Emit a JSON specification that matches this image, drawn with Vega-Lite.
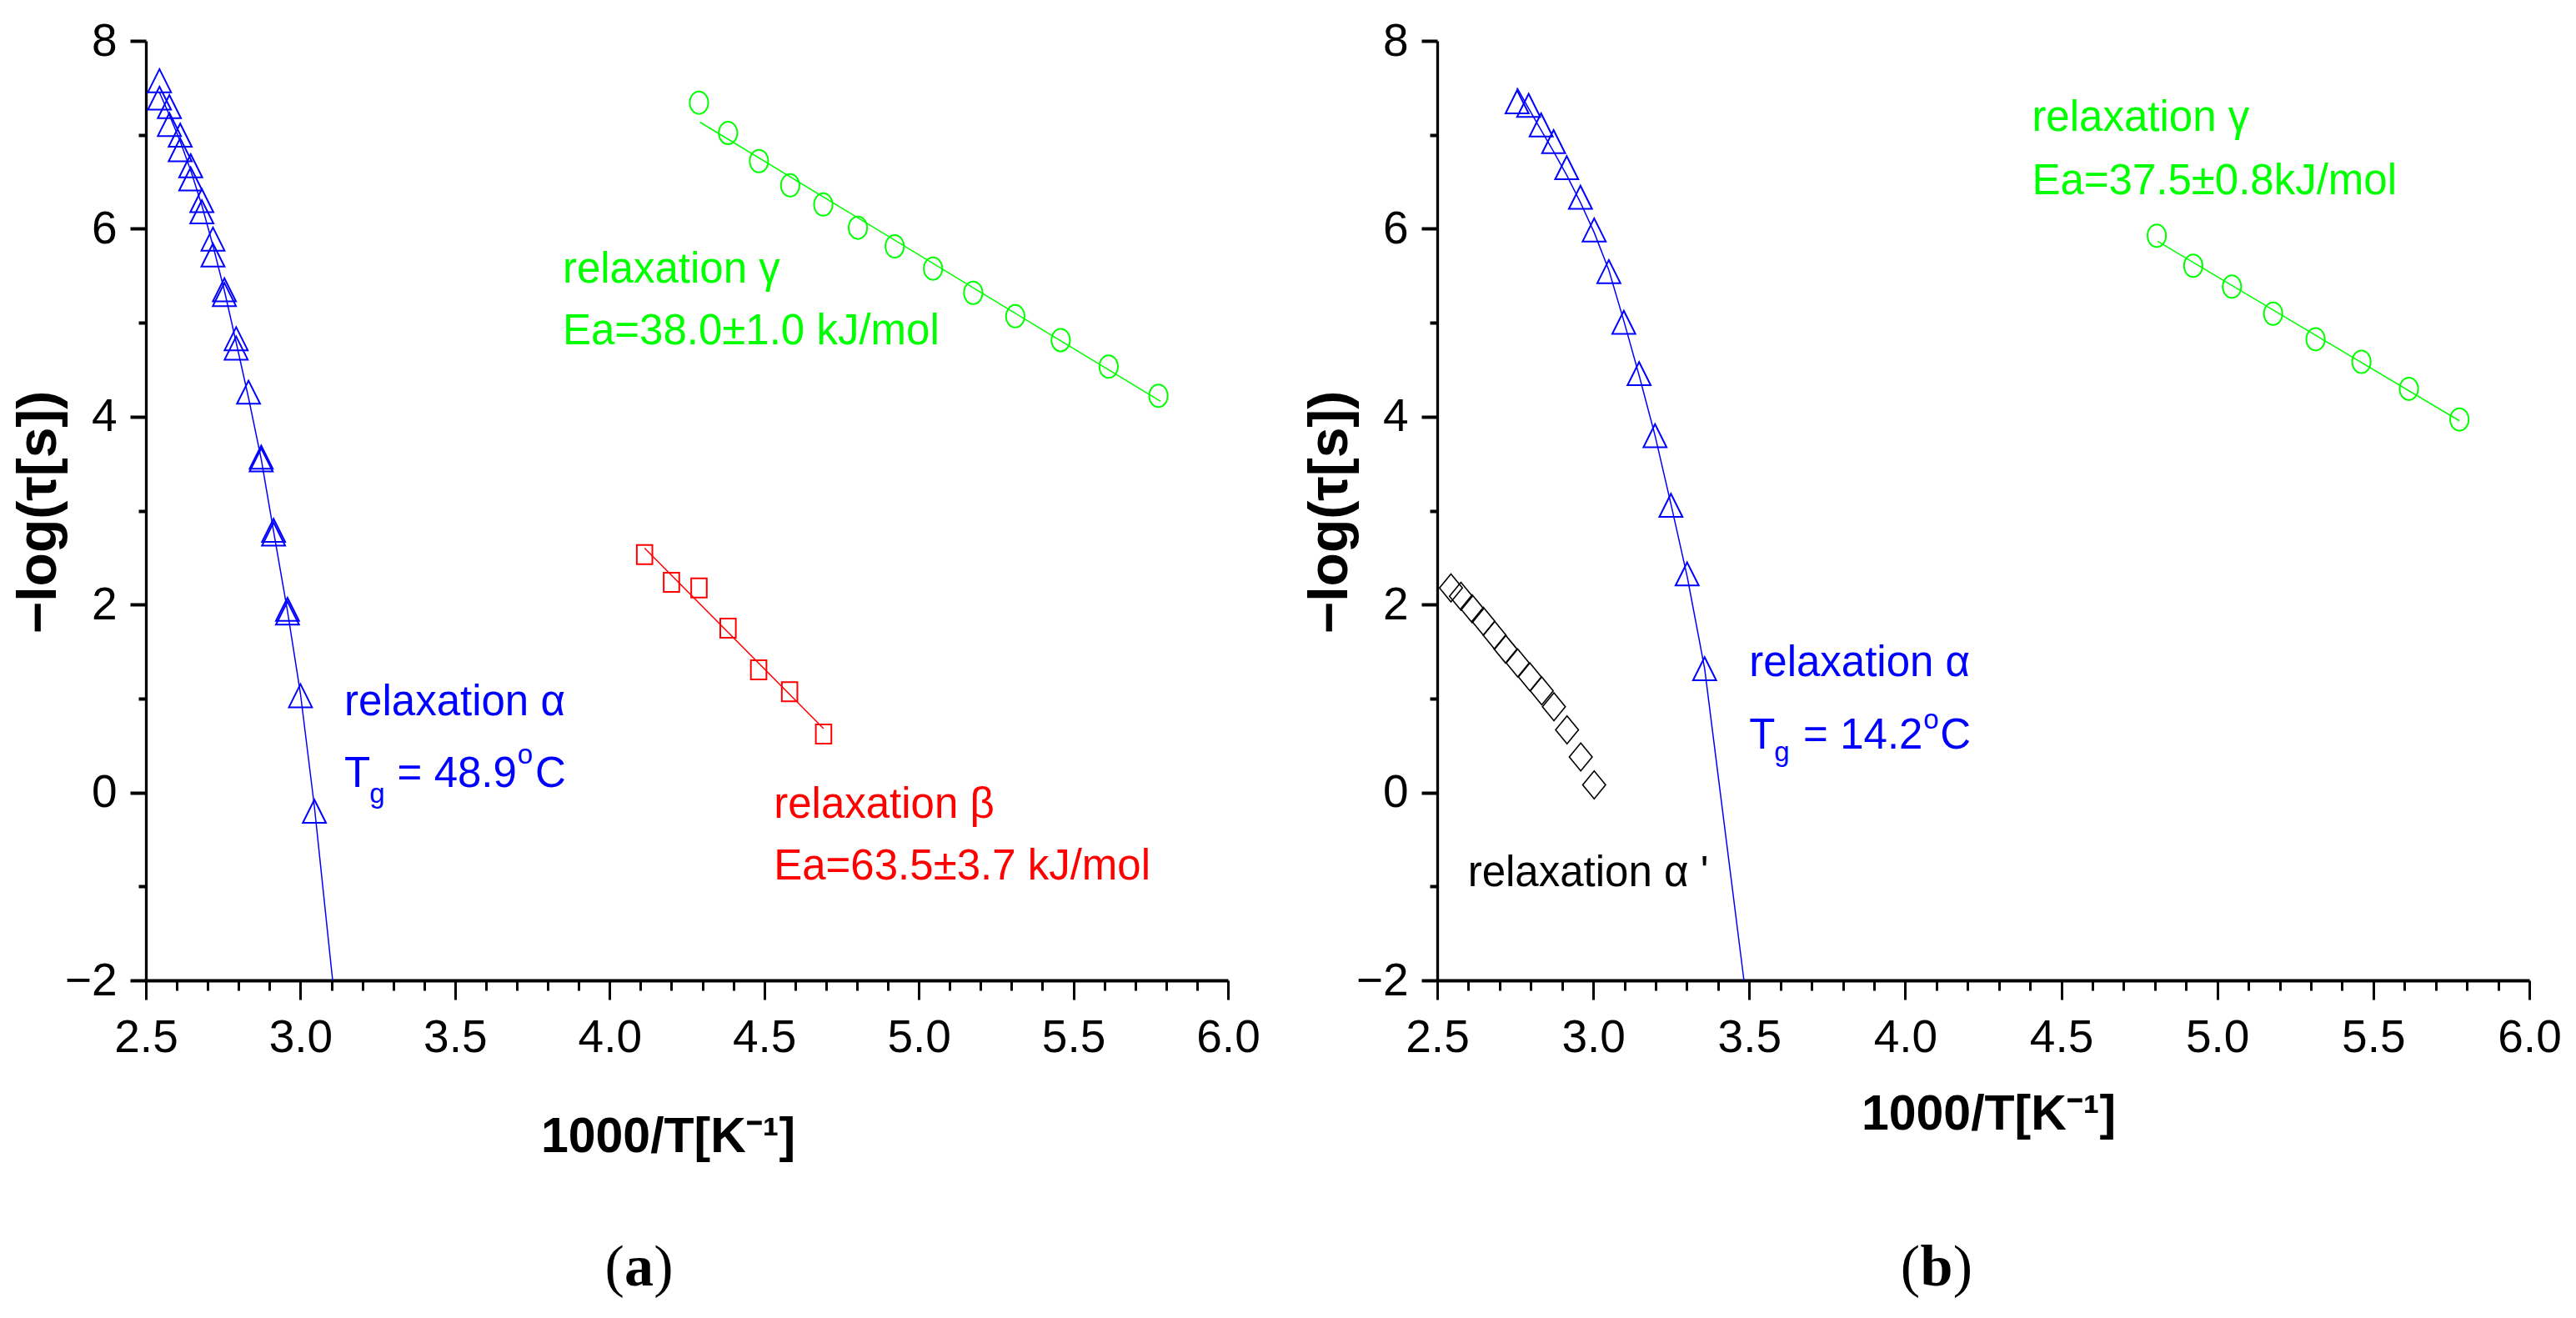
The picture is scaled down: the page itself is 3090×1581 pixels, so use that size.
{
  "$schema": "https://vega.github.io/schema/vega-lite/v6.json",
  "background": "white",
  "padding": {"left": 13, "top": 22, "right": 0, "bottom": 0},
  "config": {
    "view": {"stroke": null},
    "axis": {"grid": false, "domainColor": "black", "tickColor": "black", "labelColor": "black", "titleColor": "black", "labelFont": "Liberation Sans", "labelFontSize": 55, "labelOverlap": false, "labelFlush": false, "titleFontWeight": "bold"},
    "axisX": {"domainWidth": 4, "tickWidth": 3, "labelPadding": 19, "titleFont": "Liberation Sans", "titleFontSize": 59},
    "axisY": {"domainWidth": 3.3, "tickWidth": 4, "labelPadding": 16, "titleFont": "Liberation Sans", "titleFontSize": 66}
  },
  "datasets": {
    "pts": [
      {"panel": "a", "series": "alpha", "x": 2.544, "y": 7.576},
      {"panel": "a", "series": "alpha", "x": 2.544, "y": 7.39},
      {"panel": "a", "series": "alpha", "x": 2.576, "y": 7.30},
      {"panel": "a", "series": "alpha", "x": 2.576, "y": 7.11},
      {"panel": "a", "series": "alpha", "x": 2.611, "y": 6.996},
      {"panel": "a", "series": "alpha", "x": 2.611, "y": 6.84},
      {"panel": "a", "series": "alpha", "x": 2.645, "y": 6.67},
      {"panel": "a", "series": "alpha", "x": 2.645, "y": 6.53},
      {"panel": "a", "series": "alpha", "x": 2.681, "y": 6.30},
      {"panel": "a", "series": "alpha", "x": 2.681, "y": 6.18},
      {"panel": "a", "series": "alpha", "x": 2.717, "y": 5.89},
      {"panel": "a", "series": "alpha", "x": 2.717, "y": 5.72},
      {"panel": "a", "series": "alpha", "x": 2.754, "y": 5.35},
      {"panel": "a", "series": "alpha", "x": 2.754, "y": 5.30},
      {"panel": "a", "series": "alpha", "x": 2.792, "y": 4.83},
      {"panel": "a", "series": "alpha", "x": 2.792, "y": 4.73},
      {"panel": "a", "series": "alpha", "x": 2.832, "y": 4.26},
      {"panel": "a", "series": "alpha", "x": 2.873, "y": 3.57},
      {"panel": "a", "series": "alpha", "x": 2.873, "y": 3.54},
      {"panel": "a", "series": "alpha", "x": 2.913, "y": 2.79},
      {"panel": "a", "series": "alpha", "x": 2.913, "y": 2.75},
      {"panel": "a", "series": "alpha", "x": 2.958, "y": 1.95},
      {"panel": "a", "series": "alpha", "x": 2.958, "y": 1.91},
      {"panel": "a", "series": "alpha", "x": 3.0, "y": 1.03},
      {"panel": "a", "series": "alpha", "x": 3.045, "y": -0.20},
      {"panel": "a", "series": "beta", "x": 4.113, "y": 2.533},
      {"panel": "a", "series": "beta", "x": 4.200, "y": 2.238},
      {"panel": "a", "series": "beta", "x": 4.289, "y": 2.178},
      {"panel": "a", "series": "beta", "x": 4.383, "y": 1.749},
      {"panel": "a", "series": "beta", "x": 4.482, "y": 1.305},
      {"panel": "a", "series": "beta", "x": 4.582, "y": 1.073},
      {"panel": "a", "series": "beta", "x": 4.692, "y": 0.622},
      {"panel": "a", "series": "gamma", "x": 4.289, "y": 7.342},
      {"panel": "a", "series": "gamma", "x": 4.383, "y": 7.02},
      {"panel": "a", "series": "gamma", "x": 4.483, "y": 6.72},
      {"panel": "a", "series": "gamma", "x": 4.584, "y": 6.462},
      {"panel": "a", "series": "gamma", "x": 4.691, "y": 6.258},
      {"panel": "a", "series": "gamma", "x": 4.803, "y": 6.011},
      {"panel": "a", "series": "gamma", "x": 4.922, "y": 5.813},
      {"panel": "a", "series": "gamma", "x": 5.046, "y": 5.576},
      {"panel": "a", "series": "gamma", "x": 5.176, "y": 5.318},
      {"panel": "a", "series": "gamma", "x": 5.312, "y": 5.069},
      {"panel": "a", "series": "gamma", "x": 5.459, "y": 4.815},
      {"panel": "a", "series": "gamma", "x": 5.614, "y": 4.533},
      {"panel": "a", "series": "gamma", "x": 5.775, "y": 4.222},
      {"panel": "b", "series": "alpha", "x": 2.756, "y": 7.351},
      {"panel": "b", "series": "alpha", "x": 2.793, "y": 7.313},
      {"panel": "b", "series": "alpha", "x": 2.833, "y": 7.105},
      {"panel": "b", "series": "alpha", "x": 2.873, "y": 6.927},
      {"panel": "b", "series": "alpha", "x": 2.915, "y": 6.65},
      {"panel": "b", "series": "alpha", "x": 2.959, "y": 6.335},
      {"panel": "b", "series": "alpha", "x": 3.003, "y": 5.988},
      {"panel": "b", "series": "alpha", "x": 3.05, "y": 5.544},
      {"panel": "b", "series": "alpha", "x": 3.098, "y": 5.004},
      {"panel": "b", "series": "alpha", "x": 3.147, "y": 4.458},
      {"panel": "b", "series": "alpha", "x": 3.198, "y": 3.798},
      {"panel": "b", "series": "alpha", "x": 3.249, "y": 3.056},
      {"panel": "b", "series": "alpha", "x": 3.301, "y": 2.326},
      {"panel": "b", "series": "alpha", "x": 3.357, "y": 1.318},
      {"panel": "b", "series": "alphap", "x": 2.544, "y": 2.178},
      {"panel": "b", "series": "alphap", "x": 2.576, "y": 2.089},
      {"panel": "b", "series": "alphap", "x": 2.612, "y": 1.956},
      {"panel": "b", "series": "alphap", "x": 2.648, "y": 1.822},
      {"panel": "b", "series": "alphap", "x": 2.684, "y": 1.674},
      {"panel": "b", "series": "alphap", "x": 2.719, "y": 1.526},
      {"panel": "b", "series": "alphap", "x": 2.758, "y": 1.378},
      {"panel": "b", "series": "alphap", "x": 2.797, "y": 1.229},
      {"panel": "b", "series": "alphap", "x": 2.835, "y": 1.082},
      {"panel": "b", "series": "alphap", "x": 2.874, "y": 0.913},
      {"panel": "b", "series": "alphap", "x": 2.916, "y": 0.667},
      {"panel": "b", "series": "alphap", "x": 2.960, "y": 0.379},
      {"panel": "b", "series": "alphap", "x": 3.003, "y": 0.080},
      {"panel": "b", "series": "gamma", "x": 4.806, "y": 5.926},
      {"panel": "b", "series": "gamma", "x": 4.923, "y": 5.606},
      {"panel": "b", "series": "gamma", "x": 5.047, "y": 5.384},
      {"panel": "b", "series": "gamma", "x": 5.179, "y": 5.096},
      {"panel": "b", "series": "gamma", "x": 5.315, "y": 4.824},
      {"panel": "b", "series": "gamma", "x": 5.462, "y": 4.584},
      {"panel": "b", "series": "gamma", "x": 5.614, "y": 4.296},
      {"panel": "b", "series": "gamma", "x": 5.776, "y": 3.970}
    ],
    "fits": [
      {"panel": "a", "series": "alpha", "x": 2.544, "y": 7.45},
      {"panel": "a", "series": "alpha", "x": 2.576, "y": 7.21},
      {"panel": "a", "series": "alpha", "x": 2.611, "y": 6.93},
      {"panel": "a", "series": "alpha", "x": 2.645, "y": 6.62},
      {"panel": "a", "series": "alpha", "x": 2.681, "y": 6.25},
      {"panel": "a", "series": "alpha", "x": 2.717, "y": 5.82},
      {"panel": "a", "series": "alpha", "x": 2.754, "y": 5.34},
      {"panel": "a", "series": "alpha", "x": 2.792, "y": 4.79},
      {"panel": "a", "series": "alpha", "x": 2.832, "y": 4.2},
      {"panel": "a", "series": "alpha", "x": 2.873, "y": 3.55},
      {"panel": "a", "series": "alpha", "x": 2.913, "y": 2.78},
      {"panel": "a", "series": "alpha", "x": 2.958, "y": 1.93},
      {"panel": "a", "series": "alpha", "x": 3.0, "y": 1.05},
      {"panel": "a", "series": "alpha", "x": 3.045, "y": -0.15},
      {"panel": "a", "series": "alpha", "x": 3.104, "y": -2.0},
      {"panel": "a", "series": "beta", "x": 4.113, "y": 2.60},
      {"panel": "a", "series": "beta", "x": 4.692, "y": 0.68},
      {"panel": "a", "series": "gamma", "x": 4.292, "y": 7.135},
      {"panel": "a", "series": "gamma", "x": 5.782, "y": 4.163},
      {"panel": "b", "series": "alpha", "x": 2.756, "y": 7.50},
      {"panel": "b", "series": "alpha", "x": 2.793, "y": 7.28},
      {"panel": "b", "series": "alpha", "x": 2.833, "y": 7.05},
      {"panel": "b", "series": "alpha", "x": 2.873, "y": 6.82},
      {"panel": "b", "series": "alpha", "x": 2.915, "y": 6.57},
      {"panel": "b", "series": "alpha", "x": 2.959, "y": 6.28},
      {"panel": "b", "series": "alpha", "x": 3.003, "y": 5.96},
      {"panel": "b", "series": "alpha", "x": 3.05, "y": 5.56},
      {"panel": "b", "series": "alpha", "x": 3.098, "y": 5.02},
      {"panel": "b", "series": "alpha", "x": 3.147, "y": 4.44},
      {"panel": "b", "series": "alpha", "x": 3.198, "y": 3.80},
      {"panel": "b", "series": "alpha", "x": 3.249, "y": 3.07},
      {"panel": "b", "series": "alpha", "x": 3.301, "y": 2.30},
      {"panel": "b", "series": "alpha", "x": 3.357, "y": 1.32},
      {"panel": "b", "series": "alpha", "x": 3.483, "y": -2.0},
      {"panel": "b", "series": "gamma", "x": 4.809, "y": 5.867},
      {"panel": "b", "series": "gamma", "x": 5.776, "y": 3.956}
    ],
    "labels": [
      {"panel": "a", "series": "alpha", "kind": "main", "x": 3.142, "y": 0.818, "text": "relaxation α"},
      {"panel": "a", "series": "alpha", "kind": "main", "x": 3.142, "y": 0.062, "text": "T"},
      {"panel": "a", "series": "alpha", "kind": "small", "x": 3.223, "y": -0.107, "text": "g"},
      {"panel": "a", "series": "alpha", "kind": "main", "x": 3.313, "y": 0.062, "text": "="},
      {"panel": "a", "series": "alpha", "kind": "main", "x": 3.432, "y": 0.062, "text": "48.9"},
      {"panel": "a", "series": "alpha", "kind": "small", "x": 3.702, "y": 0.311, "text": "o"},
      {"panel": "a", "series": "alpha", "kind": "main", "x": 3.759, "y": 0.062, "text": "C"},
      {"panel": "a", "series": "beta", "kind": "main", "x": 4.531, "y": -0.267, "text": "relaxation β"},
      {"panel": "a", "series": "beta", "kind": "main", "x": 4.531, "y": -0.924, "text": "Ea=63.5±3.7 kJ/mol"},
      {"panel": "a", "series": "gamma", "kind": "main", "x": 3.848, "y": 5.428, "text": "relaxation γ"},
      {"panel": "a", "series": "gamma", "kind": "main", "x": 3.848, "y": 4.771, "text": "Ea=38.0±1.0 kJ/mol"},
      {"panel": "a", "series": "cap", "kind": "capl", "x": 4.047, "y": -5.25, "text": "("},
      {"panel": "a", "series": "cap", "kind": "capb", "x": 4.095, "y": -5.25, "text": "a"},
      {"panel": "a", "series": "cap", "kind": "capr", "x": 4.143, "y": -5.25, "text": ")"},
      {"panel": "b", "series": "alpha", "kind": "main", "x": 3.500, "y": 1.238, "text": "relaxation α"},
      {"panel": "b", "series": "alpha", "kind": "main", "x": 3.500, "y": 0.468, "text": "T"},
      {"panel": "b", "series": "alpha", "kind": "small", "x": 3.580, "y": 0.33, "text": "g"},
      {"panel": "b", "series": "alpha", "kind": "main", "x": 3.673, "y": 0.468, "text": "="},
      {"panel": "b", "series": "alpha", "kind": "main", "x": 3.791, "y": 0.468, "text": "14.2"},
      {"panel": "b", "series": "alpha", "kind": "small", "x": 4.058, "y": 0.68, "text": "o"},
      {"panel": "b", "series": "alpha", "kind": "main", "x": 4.112, "y": 0.468, "text": "C"},
      {"panel": "b", "series": "alphap", "kind": "main", "x": 2.598, "y": -0.993, "text": "relaxation α '"},
      {"panel": "b", "series": "gamma", "kind": "main", "x": 4.406, "y": 7.046, "text": "relaxation γ"},
      {"panel": "b", "series": "gamma", "kind": "main", "x": 4.406, "y": 6.371, "text": "Ea=37.5±0.8kJ/mol"},
      {"panel": "b", "series": "cap", "kind": "capl", "x": 4.047, "y": -5.25, "text": "("},
      {"panel": "b", "series": "cap", "kind": "capb", "x": 4.100, "y": -5.25, "text": "b"},
      {"panel": "b", "series": "cap", "kind": "capr", "x": 4.153, "y": -5.25, "text": ")"}
    ]
  },
  "spacing": 251,
  "bounds": "flush",
  "hconcat": [
    {
      "width": 1298,
      "height": 1127,
      "encoding": {
        "x": {"field": "x", "type": "quantitative", "scale": {"domain": [2.5, 6.0], "nice": false, "zero": false},
          "axis": {"title": "1000/T[K⁻¹]", "values": [2.5,2.6,2.7,2.8,2.9,3.0,3.1,3.2,3.3,3.4,3.5,3.6,3.7,3.8,3.9,4.0,4.1,4.2,4.3,4.4,4.5,4.6,4.7,4.8,4.9,5.0,5.1,5.2,5.3,5.4,5.5,5.6,5.7,5.8,5.9,6.0],
            "format": ".1f", "labelExpr": "abs(datum.value*2-round(datum.value*2))<0.001 ? datum.label : ''",
            "tickSize": {"condition": {"test": "abs(datum.value*2-round(datum.value*2))<0.001", "value": 23}, "value": 12},
            "titleX": 626, "titleY": 205, "titleBaseline": "alphabetic", "titleAlign": "center"}},
        "y": {"field": "y", "type": "quantitative", "scale": {"domain": [-2, 8], "nice": false, "zero": false},
          "axis": {"title": "−log(τ[s])", "values": [-2,-1,0,1,2,3,4,5,6,7,8], "format": "d",
            "labelExpr": "datum.value % 2 === 0 ? datum.label : ''",
            "tickSize": {"condition": {"test": "datum.value % 2 === 0", "value": 19}, "value": 9},
            "titleAngle": 270, "titleX": -109, "titleY": 565, "titleBaseline": "alphabetic", "titleAlign": "center"}}
      },
      "layer": [
        {"data": {"name": "fits"}, "transform": [{"filter": "datum.panel === 'a'"}],
          "mark": {"type": "line", "strokeWidth": 1.5},
          "encoding": {"color": {"field": "series", "type": "nominal", "scale": {"domain": ["alpha", "beta", "gamma", "alphap"], "range": ["#0000ff", "#ff0000", "#00ff00", "#000000"]}, "legend": null}}},
        {"data": {"name": "pts"}, "transform": [{"filter": "datum.panel === 'a' && datum.series === 'alpha'"}],
          "mark": {"type": "point", "shape": "M0,-1L1,1L-1,1Z", "size": 770, "strokeWidth": 2, "color": "#0000ff", "filled": false, "opacity": 1}},
        {"data": {"name": "pts"}, "transform": [{"filter": "datum.panel === 'a' && datum.series === 'beta'"}],
          "mark": {"type": "point", "shape": "M-0.81,-1L0.81,-1L0.81,1L-0.81,1Z", "size": 529, "strokeWidth": 2, "color": "#ff0000", "filled": false, "opacity": 1}},
        {"data": {"name": "pts"}, "transform": [{"filter": "datum.panel === 'a' && datum.series === 'gamma'"}],
          "mark": {"type": "point", "shape": "M0,-1A0.82,1,0,1,1,0,1A0.82,1,0,1,1,0,-1Z", "size": 729, "strokeWidth": 2, "color": "#00ff00", "filled": false, "opacity": 1}},
        {"data": {"name": "labels"}, "transform": [{"filter": "datum.panel === 'a' && datum.kind === 'main'"}],
          "mark": {"type": "text", "align": "left", "baseline": "alphabetic", "font": "Liberation Sans", "fontSize": 51},
          "encoding": {"text": {"field": "text"}, "color": {"field": "series", "type": "nominal", "scale": {"domain": ["alpha", "beta", "gamma", "alphap"], "range": ["#0000ff", "#ff0000", "#00ff00", "#000000"]}, "legend": null}}},
        {"data": {"name": "labels"}, "transform": [{"filter": "datum.panel === 'a' && datum.kind === 'small'"}],
          "mark": {"type": "text", "align": "left", "baseline": "alphabetic", "font": "Liberation Sans", "fontSize": 33},
          "encoding": {"text": {"field": "text"}, "color": {"field": "series", "type": "nominal", "scale": {"domain": ["alpha", "beta", "gamma", "alphap"], "range": ["#0000ff", "#ff0000", "#00ff00", "#000000"]}, "legend": null}}},
        {"data": {"name": "labels"}, "transform": [{"filter": "datum.panel === 'a' && datum.kind === 'capl'"}],
          "mark": {"type": "text", "align": "right", "baseline": "alphabetic", "font": "Liberation Serif", "fontSize": 70, "color": "black"},
          "encoding": {"text": {"field": "text"}}},
        {"data": {"name": "labels"}, "transform": [{"filter": "datum.panel === 'a' && datum.kind === 'capb'"}],
          "mark": {"type": "text", "align": "center", "baseline": "alphabetic", "font": "Liberation Serif", "fontSize": 70, "fontWeight": "bold", "color": "black"},
          "encoding": {"text": {"field": "text"}}},
        {"data": {"name": "labels"}, "transform": [{"filter": "datum.panel === 'a' && datum.kind === 'capr'"}],
          "mark": {"type": "text", "align": "left", "baseline": "alphabetic", "font": "Liberation Serif", "fontSize": 70, "color": "black"},
          "encoding": {"text": {"field": "text"}}}
      ]
    },
    {
      "width": 1310,
      "height": 1127,
      "encoding": {
        "x": {"field": "x", "type": "quantitative", "scale": {"domain": [2.5, 6.0], "nice": false, "zero": false},
          "axis": {"title": "1000/T[K⁻¹]", "values": [2.5,2.6,2.7,2.8,2.9,3.0,3.1,3.2,3.3,3.4,3.5,3.6,3.7,3.8,3.9,4.0,4.1,4.2,4.3,4.4,4.5,4.6,4.7,4.8,4.9,5.0,5.1,5.2,5.3,5.4,5.5,5.6,5.7,5.8,5.9,6.0],
            "format": ".1f", "labelExpr": "abs(datum.value*2-round(datum.value*2))<0.001 ? datum.label : ''",
            "tickSize": {"condition": {"test": "abs(datum.value*2-round(datum.value*2))<0.001", "value": 23}, "value": 12},
            "titleX": 661, "titleY": 178, "titleBaseline": "alphabetic", "titleAlign": "center"}},
        "y": {"field": "y", "type": "quantitative", "scale": {"domain": [-2, 8], "nice": false, "zero": false},
          "axis": {"title": "−log(τ[s])", "values": [-2,-1,0,1,2,3,4,5,6,7,8], "format": "d",
            "labelExpr": "datum.value % 2 === 0 ? datum.label : ''",
            "tickSize": {"condition": {"test": "datum.value % 2 === 0", "value": 19}, "value": 9},
            "titleAngle": 270, "titleX": -109, "titleY": 565, "titleBaseline": "alphabetic", "titleAlign": "center"}}
      },
      "layer": [
        {"data": {"name": "fits"}, "transform": [{"filter": "datum.panel === 'b'"}],
          "mark": {"type": "line", "strokeWidth": 1.5},
          "encoding": {"color": {"field": "series", "type": "nominal", "scale": {"domain": ["alpha", "beta", "gamma", "alphap"], "range": ["#0000ff", "#ff0000", "#00ff00", "#000000"]}, "legend": null}}},
        {"data": {"name": "pts"}, "transform": [{"filter": "datum.panel === 'b' && datum.series === 'alpha'"}],
          "mark": {"type": "point", "shape": "M0,-1L1,1L-1,1Z", "size": 770, "strokeWidth": 2, "color": "#0000ff", "filled": false, "opacity": 1}},
        {"data": {"name": "pts"}, "transform": [{"filter": "datum.panel === 'b' && datum.series === 'alphap'"}],
          "mark": {"type": "point", "shape": "M0,-1L0.82,0L0,1L-0.82,0Z", "size": 1122, "strokeWidth": 1.6, "color": "#000000", "filled": false, "opacity": 1}},
        {"data": {"name": "pts"}, "transform": [{"filter": "datum.panel === 'b' && datum.series === 'gamma'"}],
          "mark": {"type": "point", "shape": "M0,-1A0.82,1,0,1,1,0,1A0.82,1,0,1,1,0,-1Z", "size": 729, "strokeWidth": 2, "color": "#00ff00", "filled": false, "opacity": 1}},
        {"data": {"name": "labels"}, "transform": [{"filter": "datum.panel === 'b' && datum.kind === 'main'"}],
          "mark": {"type": "text", "align": "left", "baseline": "alphabetic", "font": "Liberation Sans", "fontSize": 51},
          "encoding": {"text": {"field": "text"}, "color": {"field": "series", "type": "nominal", "scale": {"domain": ["alpha", "beta", "gamma", "alphap"], "range": ["#0000ff", "#ff0000", "#00ff00", "#000000"]}, "legend": null}}},
        {"data": {"name": "labels"}, "transform": [{"filter": "datum.panel === 'b' && datum.kind === 'small'"}],
          "mark": {"type": "text", "align": "left", "baseline": "alphabetic", "font": "Liberation Sans", "fontSize": 33},
          "encoding": {"text": {"field": "text"}, "color": {"field": "series", "type": "nominal", "scale": {"domain": ["alpha", "beta", "gamma", "alphap"], "range": ["#0000ff", "#ff0000", "#00ff00", "#000000"]}, "legend": null}}},
        {"data": {"name": "labels"}, "transform": [{"filter": "datum.panel === 'b' && datum.kind === 'capl'"}],
          "mark": {"type": "text", "align": "right", "baseline": "alphabetic", "font": "Liberation Serif", "fontSize": 70, "color": "black"},
          "encoding": {"text": {"field": "text"}}},
        {"data": {"name": "labels"}, "transform": [{"filter": "datum.panel === 'b' && datum.kind === 'capb'"}],
          "mark": {"type": "text", "align": "center", "baseline": "alphabetic", "font": "Liberation Serif", "fontSize": 70, "fontWeight": "bold", "color": "black"},
          "encoding": {"text": {"field": "text"}}},
        {"data": {"name": "labels"}, "transform": [{"filter": "datum.panel === 'b' && datum.kind === 'capr'"}],
          "mark": {"type": "text", "align": "left", "baseline": "alphabetic", "font": "Liberation Serif", "fontSize": 70, "color": "black"},
          "encoding": {"text": {"field": "text"}}}
      ]
    }
  ]
}
